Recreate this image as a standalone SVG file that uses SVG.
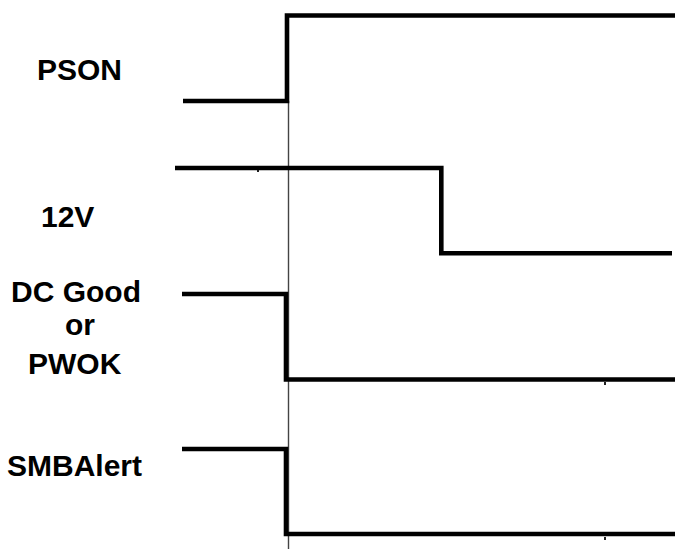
<svg xmlns="http://www.w3.org/2000/svg" width="675" height="549" viewBox="0 0 675 549">
  <style>
    .lbl { font-family: "Liberation Sans", Arial, sans-serif; font-size: 30px; font-weight: bold; fill: #000; }
    .wave { fill: none; stroke: #000; stroke-width: 4.6; stroke-linejoin: miter; stroke-linecap: butt; }
    .ref { stroke: #444; stroke-width: 1.4; fill: none; }
    .tick { fill: #222; }
  </style>
  <rect width="675" height="549" fill="#fff"/>
  <g id="reference-line">
    <line class="ref" x1="288.5" y1="101" x2="288.5" y2="549"/>
    <rect class="tick" x="257" y="169" width="2" height="3"/>
    <rect class="tick" x="604" y="382" width="2" height="3"/>
    <rect class="tick" x="604" y="537" width="2" height="3"/>
  </g>
  <g id="PSON">
    <text class="lbl" x="37" y="80">PSON</text>
    <polyline class="wave" points="183,101 287,101 287,15.5 675,15.5"/>
  </g>
  <g id="V12">
    <text class="lbl" x="41" y="227">12V</text>
    <polyline class="wave" points="175,168 441.3,168 441.3,253.3 672,253.3"/>
  </g>
  <g id="DCGood">
    <text class="lbl" x="11" y="302">DC Good</text>
    <text class="lbl" x="65" y="335">or</text>
    <text class="lbl" x="28" y="374">PWOK</text>
    <polyline class="wave" points="182,294 286,294 286,379.5 675,379.5"/>
  </g>
  <g id="SMBAlert">
    <text class="lbl" x="7" y="476">SMBAlert</text>
    <polyline class="wave" points="182,449 286,449 286,534 675,534"/>
  </g>
</svg>
